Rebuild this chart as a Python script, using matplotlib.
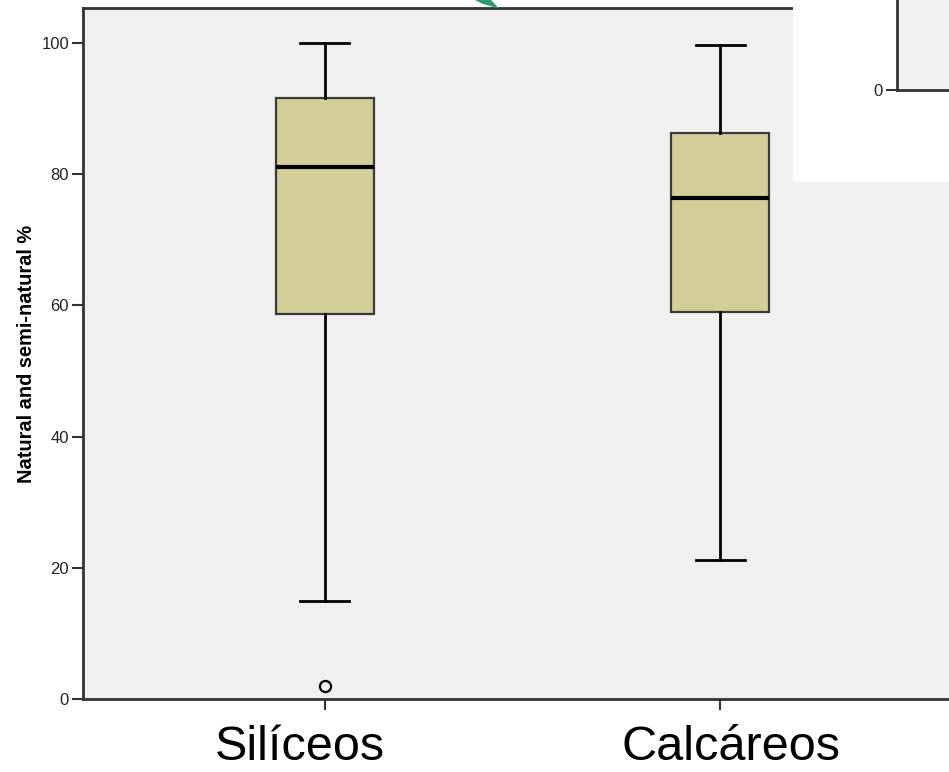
import matplotlib.pyplot as plt
from matplotlib.patches import Rectangle, Polygon
from matplotlib.transforms import blended_transform_factory

plt.rcParams['font.family'] = ['Liberation Sans', 'DejaVu Sans']

# Resumen de cada grupo de sustrato
categorias = ['Silíceos', 'Calcáreos']
bigote_inf = [15.0, 21.2]
q1 = [58.7, 58.9]
mediana = [81.1, 76.4]
q3 = [91.6, 86.2]
bigote_sup = [100.0, 99.6]
atipicos = [[2.0], []]

W, H = 949, 772
fig = plt.figure(figsize=(W / 100, H / 100), dpi=100)

# Ejes principales (el borde derecho queda fuera del lienzo)
ax = fig.add_axes([83 / W, (H - 699) / H, (962 - 83) / W, (699 - 8) / H])
ax.set_facecolor('#f0f0f0')

stats = []
for i in range(len(categorias)):
    stats.append(dict(label='', whislo=bigote_inf[i], q1=q1[i],
                      med=mediana[i], q3=q3[i], whishi=bigote_sup[i],
                      fliers=atipicos[i]))

pos = [1, 2]
ax.bxp(stats, positions=pos, widths=0.25, patch_artist=True,
       showfliers=True, capwidths=0.124,
       boxprops=dict(facecolor='#d3ce97', edgecolor='#3a3a3a', linewidth=1.6),
       medianprops=dict(color='black', linewidth=3),
       whiskerprops=dict(color='black', linewidth=2),
       capprops=dict(color='black', linewidth=2),
       flierprops=dict(marker='o', markerfacecolor='none', markeredgecolor='black',
                       markersize=8, markeredgewidth=1.6))

ax.set_xlim(0.3875, 2.6125)
ax.set_ylim(0, 105.3)
ax.set_yticks([0, 20, 40, 60, 80, 100])
ax.set_xticks(pos)
ax.set_xticklabels(['', ''])
ax.tick_params(axis='y', length=8, width=1.5, color='#333333',
               labelsize=12, labelcolor='#222222', pad=2)
ax.tick_params(axis='x', length=8, width=1.5, color='#333333')
for s in ax.spines.values():
    s.set_color('#333333')
    s.set_linewidth(2)

ax.set_ylabel('Natural and semi-natural %', fontsize=14.4, fontweight='bold')
ax.yaxis.set_label_coords(-0.054, 0.5)

# Etiquetas grandes de las categorías, algo desplazadas de las marcas
desplaz = [-0.063, 0.028]
trans = blended_transform_factory(ax.transData, ax.transAxes)
for p, d, nombre in zip(pos, desplaz, categorias):
    ax.text(p + d, -0.088, nombre, transform=trans, ha='center', va='baseline',
            fontsize=35, clip_on=False)

# Recuadro blanco con la esquina de otro gráfico
fig.add_artist(Rectangle((793 / W, (H - 182) / H), (W - 793) / W + 0.01, 182 / H + 0.01,
                         transform=fig.transFigure, facecolor='white',
                         edgecolor='none', zorder=2))
ax2 = fig.add_axes([897 / W, (H - 90) / H, 0.2, 0.2], zorder=3)
ax2.set_facecolor('#f0f0f0')
ax2.set_ylim(0, 10)
ax2.set_yticks([0])
ax2.set_xticks([])
ax2.tick_params(axis='y', length=8, width=1.5, color='#333333',
                labelsize=12, labelcolor='#222222', pad=2)
for k in ['top', 'right']:
    ax2.spines[k].set_visible(False)
for k in ['left', 'bottom']:
    ax2.spines[k].set_color('#333333')
    ax2.spines[k].set_linewidth(2)

# Punta de la flecha verde
flecha = [(475, 0), (491, 0), (499, 8.5), (483, 4)]
fig.add_artist(Polygon([(x / W, (H - y) / H) for x, y in flecha], closed=True,
                       transform=fig.transFigure, facecolor='#2e9c6a',
                       edgecolor='none', zorder=4))

fig.savefig('out.png', dpi=100)
